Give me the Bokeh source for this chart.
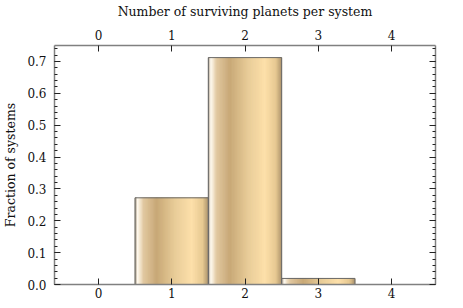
import numpy as np
from bokeh.plotting import figure
from bokeh.models import (LinearAxis, Range1d, SingleIntervalTicker, FixedTicker,
                          NumeralTickFormatter, CustomJSTickFormatter)
from bokeh.embed import file_html
from bokeh.resources import INLINE

# Data
planets = [0, 1, 2, 3, 4]
fractions = [0.0, 0.272, 0.712, 0.019, 0.0]
x_ticks = [0, 1, 2, 3, 4]
x_label = "Number of surviving planets per system"
y_label = "Fraction of systems"

FONT = "DejaVu Serif"

p = figure(width=447, height=300, output_backend="svg", toolbar_location=None,
           x_range=Range1d(-0.6, 4.6), y_range=Range1d(0, 0.75),
           min_border_left=44, min_border_right=12, min_border_top=40, min_border_bottom=15,
           x_axis_location=None, y_axis_location=None)
p.grid.visible = False
p.outline_line_color = None
p.background_fill_color = "white"
p.border_fill_color = "white"

# gradient stops (style)
stops = [(0.0, (150, 135, 110)), (0.04, (255, 250, 240)), (0.12, (225, 200, 160)),
         (0.30, (200, 168, 118)), (0.55, (232, 204, 152)), (0.78, (253, 224, 170)),
         (0.93, (230, 200, 145)), (1.0, (175, 150, 110))]
sp = np.array([s[0] for s in stops])
sc = np.array([s[1] for s in stops], dtype=float)
N = 60
width = 1.0
lefts, rights, tops, colors = [], [], [], []
for xv, fv in zip(planets, fractions):
    if fv <= 0:
        continue
    for i in range(N):
        t = (i + 0.5) / N
        c = [int(round(np.interp(t, sp, sc[:, k]))) for k in range(3)]
        lefts.append(xv - width / 2 + i * width / N)
        rights.append(xv - width / 2 + (i + 1) * width / N)
        tops.append(fv)
        colors.append("#%02x%02x%02x" % tuple(c))
p.quad(left=lefts, right=rights, top=tops, bottom=0, fill_color=colors,
       line_color=colors, line_width=1)

nz = [i for i, f in enumerate(fractions) if f > 0]
p.quad(left=[planets[i] - width / 2 for i in nz], right=[planets[i] + width / 2 for i in nz],
       top=[fractions[i] for i in nz], bottom=0, fill_color=None, line_color="#6a6a6a", line_width=1)

def style(ax):
    ax.axis_line_color = "#808080"
    ax.axis_line_width = 1.5
    ax.major_tick_line_color = "#222222"
    ax.minor_tick_line_color = "#222222"
    ax.major_tick_in = 6
    ax.major_tick_out = 0
    ax.minor_tick_in = 3
    ax.minor_tick_out = 0
    ax.major_label_text_font = FONT
    ax.major_label_text_font_size = "12px"
    ax.major_label_text_color = "#111111"
    ax.axis_label_text_font = FONT
    ax.axis_label_text_font_size = "12.5px"
    ax.axis_label_text_font_style = "normal"
    ax.axis_label_text_color = "#111111"

xb = LinearAxis(ticker=FixedTicker(ticks=x_ticks))
style(xb)
xb.major_label_standoff = 3
xt = LinearAxis(ticker=FixedTicker(ticks=x_ticks), axis_label=x_label)
style(xt)
xt.major_label_standoff = 6
xt.axis_label_standoff = 8
yl = LinearAxis(ticker=SingleIntervalTicker(interval=0.1, num_minor_ticks=5), axis_label=y_label,
                formatter=NumeralTickFormatter(format="0.0"))
style(yl)
yl.major_label_standoff = 8
yl.axis_label_standoff = 6
yr = LinearAxis(ticker=SingleIntervalTicker(interval=0.1, num_minor_ticks=5),
                formatter=CustomJSTickFormatter(code="return ''"))
style(yr)
yr.major_label_standoff = 0
yr.major_label_text_font_size = "1px"

p.add_layout(xb, "below")
p.add_layout(xt, "above")
p.add_layout(yl, "left")
p.add_layout(yr, "right")

open("out.html", "w").write(file_html(p, INLINE))
